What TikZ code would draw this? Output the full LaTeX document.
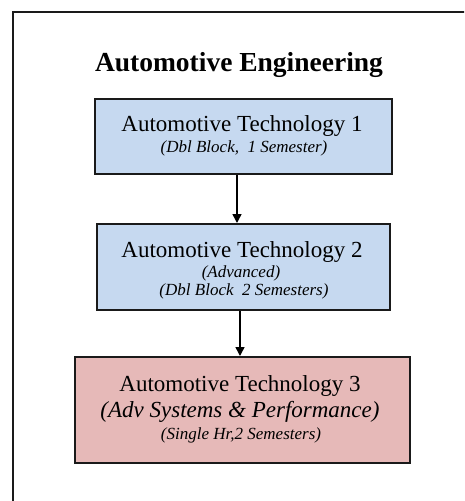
\documentclass[tikz,border=0pt]{standalone}
\usepackage{fontspec}
\setmainfont{Liberation Serif}
\usetikzlibrary{arrows.meta}
\definecolor{boxblue}{HTML}{C6D9F0}
\definecolor{boxpink}{HTML}{E6B9B8}
\definecolor{edge}{HTML}{1A1A1A}
\tikzset{
  cbox/.style={draw=edge, line width=2pt, inner sep=0pt},
  mainline/.style={anchor=base, inner sep=0pt, font=\fontsize{23}{26}\selectfont},
  subline/.style={anchor=base, inner sep=0pt, font=\fontsize{17}{20}\selectfont\itshape},
  bigital/.style={anchor=base, inner sep=0pt, font=\fontsize{23}{26}\selectfont\itshape},
  flow/.style={draw=black, line width=1.5pt, -{Triangle[length=9pt,width=9pt]}},
}
\begin{document}
\begin{tikzpicture}[x=1pt,y=-1pt]
\useasboundingbox (0,0) rectangle (464,501);
\begin{scope}
\clip (0,0) rectangle (464,501);
\draw[line width=2pt, draw=edge] (13,530) -- (13,12) -- (490,12);
\end{scope}
\node[anchor=base, inner sep=0pt, font=\fontsize{27.5}{30}\selectfont\bfseries] (title) at (239,71) {Automotive Engineering};
% boxes
\node[cbox, fill=boxblue, minimum width=297pt, minimum height=75pt] (b1) at (243.5,136.5) {};
\node[cbox, fill=boxblue, minimum width=293pt, minimum height=86pt] (b2) at (243.5,267) {};
\node[cbox, fill=boxpink, minimum width=335pt, minimum height=106pt] (b3) at (242.5,410) {};
% texts
\node[mainline] (t1a) at (242,131) {Automotive Technology 1};
\node[subline] (t1b) at (244,152) {(Dbl Block,\ \ 1 Semester)};
\node[mainline] (t2a) at (242,257) {Automotive Technology 2};
\node[subline] (t2b) at (241,277) {(Advanced)};
\node[subline] (t2c) at (244,295) {(Dbl Block\ \ 2 Semesters)};
\node[mainline] (t3a) at (240,391) {Automotive Technology 3};
\node[bigital] (t3b) at (240,417) {(Adv Systems \& Performance)};
\node[subline] (t3c) at (241,439) {(Single Hr,2 Semesters)};
% connectors
\draw[flow] ([xshift=-6.5pt]b1.south) -- ([xshift=-6.5pt]b1.south |- b2.north);
\draw[flow] ([xshift=-3.5pt]b2.south) -- ([xshift=-3.5pt]b2.south |- b3.north);
\end{tikzpicture}
\end{document}
